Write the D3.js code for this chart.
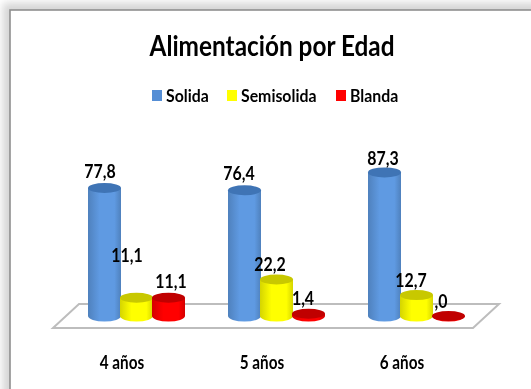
<!DOCTYPE html>
<html>
<head>
<meta charset="utf-8">
<script src="https://cdn.jsdelivr.net/npm/d3@7"></script>
<style>
  html, body { margin: 0; padding: 0; background: #fff; overflow: hidden; }
  text { font-family: Lato, "Open Sans", sans-serif; fill: #000; font-weight: 700; }
</style>
</head>
<body>
<div id="chart"></div>
<script>
var width = 531,
    height = 389;

var title = "Alimentación por Edad";
var categories = ["4 años", "5 años", "6 años"];
var seriesNames = ["Solida", "Semisolida", "Blanda"];
var solida = [77.8, 76.4, 87.3];
var semisolida = [11.1, 22.2, 12.7];
var blanda = [11.1, 1.4, 0];
var labelsSolida = ["77,8", "76,4", "87,3"];
var labelsSemisolida = ["11,1", "22,2", "12,7"];
var labelsBlanda = ["11,1", "1,4", ",0"];

var colors = {
  Solida: ["#3f74b5", "#5f9ae2"],
  Semisolida: ["#c8c800", "#ffff00"],
  Blanda: ["#c00000", "#ff0000"]
};
var legendColors = ["#558ed5", "#ffff00", "#ff0000"];

// how far each label sits from the top of its cylinder, [dx, dy]
var labelNudge = {
  Solida: [[-4, -10], [-5, -10], [-1, -7]],
  Semisolida: [[-9, -36], [-6, -8], [-5, -8]],
  Blanda: [[3, -10], [-5, -9], [-7, -8]]
};

var series = [
  {name: "Solida", values: solida, labels: labelsSolida},
  {name: "Semisolida", values: semisolida, labels: labelsSemisolida},
  {name: "Blanda", values: blanda, labels: labelsBlanda}
];

var x = d3.scaleBand().domain(categories).range([66, 486]);
var xLabel = d3.scaleBand().domain(categories).range([52, 472]);
var xInner = d3.scaleBand().domain(seriesNames).range([-48, 48]).paddingInner(0);
var y = d3.scaleLinear().domain([0, 100]).range([316, 151.5]);

var ry = 5.5;

var svg = d3.select("#chart").append("svg")
    .attr("width", width)
    .attr("height", height)
    .style("display", "block");

// Lato is wider than the original face, so squeeze text to a share of its width
function squeeze(sel, k) {
  sel.each(function() {
    d3.select(this)
      .attr("textLength", this.getComputedTextLength() * k)
      .attr("lengthAdjust", "spacingAndGlyphs");
  });
  return sel;
}

var defs = svg.append("defs");

Object.keys(colors).forEach(function(name) {
  var g = defs.append("linearGradient").attr("id", "grad-" + name);
  g.append("stop").attr("offset", "0%").attr("stop-color", d3.color(colors[name][1]).darker(0.5));
  g.append("stop").attr("offset", "35%").attr("stop-color", colors[name][1]);
  g.append("stop").attr("offset", "80%").attr("stop-color", colors[name][1]);
  g.append("stop").attr("offset", "100%").attr("stop-color", d3.color(colors[name][1]).darker(0.5));
});

var blur = defs.append("filter").attr("id", "soft")
    .attr("x", "-5%").attr("y", "-5%").attr("width", "110%").attr("height", "110%");
blur.append("feGaussianBlur").attr("stdDeviation", 4);

var textBlur = defs.append("filter").attr("id", "smear");
textBlur.append("feGaussianBlur").attr("stdDeviation", 0.35);

// grey backdrop and the framed white card
svg.append("rect").attr("width", width).attr("height", height).attr("fill", "#fff");
svg.append("rect")
    .attr("x", 3).attr("y", 3)
    .attr("width", width + 20).attr("height", height + 20)
    .attr("fill", "#d4d4d4")
    .attr("filter", "url(#soft)");
svg.append("rect")
    .attr("x", 10).attr("y", 10)
    .attr("width", width + 10).attr("height", height + 10)
    .attr("fill", "#fff")
    .attr("stroke", "#8f8f8f")
    .attr("stroke-width", 1.6);

svg.append("text")
    .attr("x", 272).attr("y", 56)
    .attr("text-anchor", "middle")
    .attr("font-size", 29)
    .attr("filter", "url(#smear)")
    .text(title)
    .call(squeeze, 0.84);

// legend
var legendX = d3.scaleOrdinal().domain(seriesNames).range([152, 227, 336]);
var legend = svg.selectAll(".legend").data(seriesNames).enter().append("g")
    .attr("class", "legend")
    .attr("transform", function(d) { return "translate(" + legendX(d) + ",90)"; });
legend.append("rect")
    .attr("width", 10).attr("height", 11)
    .attr("fill", function(d, i) { return legendColors[i]; });
legend.append("text")
    .attr("x", 14).attr("y", 12)
    .attr("font-size", 16.5)
    .attr("filter", "url(#smear)")
    .text(function(d) { return d; })
    .call(squeeze, 0.96);

// floor
var floorTop = 304, floorBottom = 328, floorDepth = 26, floorLeft = 53, floorRight = 473;
svg.append("path")
    .attr("d", d3.line()([
      [floorLeft, floorBottom],
      [floorLeft + floorDepth, floorTop],
      [floorRight + floorDepth, floorTop],
      [floorRight, floorBottom]
    ]) + "Z")
    .attr("fill", "#fff")
    .attr("stroke", "#bdbdbd")
    .attr("stroke-width", 2);

// cylinders
series.forEach(function(s) {
  var g = svg.append("g").attr("class", "series");
  categories.forEach(function(cat, i) {
    var v = s.values[i];
    var left = x(cat) + x.bandwidth() / 2 + xInner(s.name);
    var w = xInner.bandwidth() + 1;
    var rx = w / 2;
    var cx = left + rx;
    var top = y(v);
    var base = y(0);
    g.append("path")
        .attr("d", "M" + left + "," + top +
                   "V" + base +
                   "A" + rx + "," + ry + " 0 0 0 " + (left + w) + "," + base +
                   "V" + top + "Z")
        .attr("fill", "url(#grad-" + s.name + ")");
    g.append("ellipse")
        .attr("cx", cx).attr("cy", top)
        .attr("rx", rx).attr("ry", ry - 0.5)
        .attr("fill", colors[s.name][0]);
  });
});

// value labels
series.forEach(function(s) {
  categories.forEach(function(cat, i) {
    var cx = x(cat) + x.bandwidth() / 2 + xInner(s.name) + xInner.bandwidth() / 2;
    var n = labelNudge[s.name][i];
    svg.append("text")
        .attr("x", cx + n[0])
        .attr("y", y(s.values[i]) + n[1])
        .attr("text-anchor", "middle")
        .attr("font-size", 18.5)
        .attr("filter", "url(#smear)")
        .text(s.labels[i])
        .call(squeeze, 0.86);
  });
});

// category axis, line and ticks hidden
var axis = svg.append("g")
    .attr("transform", "translate(0,351)")
    .call(d3.axisBottom(xLabel).tickSize(0).tickPadding(5));
axis.select(".domain").remove();
axis.selectAll("text")
    .attr("font-size", 18)
    .attr("font-family", "Lato")
    .attr("filter", "url(#smear)")
    .call(squeeze, 0.85);
</script>
</body>
</html>
